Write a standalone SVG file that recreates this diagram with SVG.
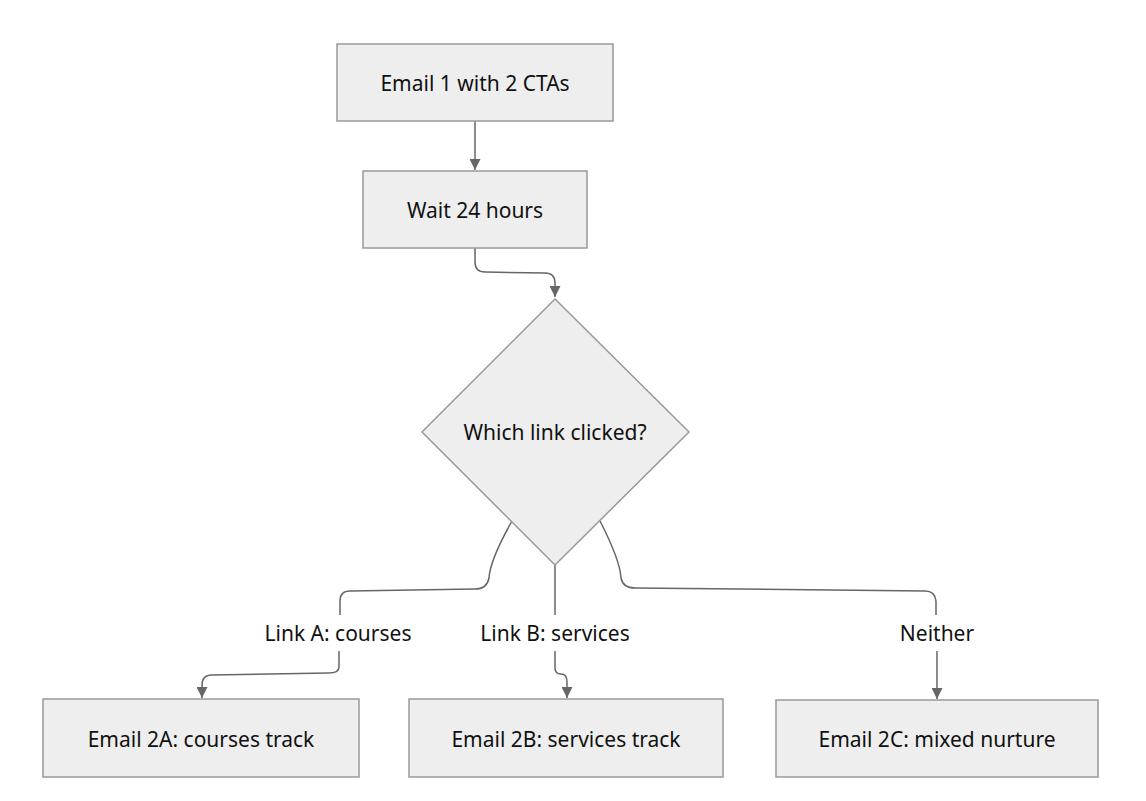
<svg xmlns="http://www.w3.org/2000/svg" width="1146" height="801" viewBox="0 0 1146 801">
<style>
.n{fill:#eeeeee;stroke:#999999;stroke-width:1.5}
.t{font-family:"Noto Sans","Open Sans",sans-serif;font-size:21px;fill:#111;text-anchor:middle;dominant-baseline:central}
.e{fill:none;stroke:#666666;stroke-width:1.5}
</style>
<defs>
<marker id="ah" viewBox="0 0 10 10" refX="10" refY="5" markerWidth="11" markerHeight="11" markerUnits="userSpaceOnUse" orient="auto">
<path d="M0,0 L10,5 L0,10 z" fill="#666666"/>
</marker>
</defs>
<rect width="1146" height="801" fill="#ffffff"/>
<g id="connectors">
<path class="e" d="M475,121 L475,170" marker-end="url(#ah)"/>
<path class="e" d="M475,248 L475,262 Q475,272 485,272 L545,273 Q555,273 555,283 L555,297" marker-end="url(#ah)"/>
<path class="e" d="M512,521 Q490,560 489,578 Q487,589 475,589 L350,591 Q340,591 340,601 L340,615"/>
<path class="e" d="M339,651 L339,667 Q339,673 329,673 L212,675 Q202,675 202,685 L202,698" marker-end="url(#ah)"/>
<path class="e" d="M555,564 L555,615"/>
<path class="e" d="M555,651 L555,668 Q555,674 561,674 Q567,674 567,682 L567,698" marker-end="url(#ah)"/>
<path class="e" d="M600,521 Q620,560 621,578 Q623,588 635,588 L925,591 Q935,591 936,601 L936,615"/>
<path class="e" d="M937,651 L937,699" marker-end="url(#ah)"/>
</g>
<g id="node-email1"><rect class="n" x="337" y="44" width="276" height="77"/><text class="t" x="475" y="83">Email 1 with 2 CTAs</text></g>
<g id="node-wait"><rect class="n" x="363" y="171" width="224" height="77"/><text class="t" x="475" y="210">Wait 24 hours</text></g>
<g id="node-decision"><polygon class="n" points="555,299 689,432 555,565 422,432"/><text class="t" x="555" y="432">Which link clicked?</text></g>
<g id="node-2a"><rect class="n" x="43" y="699" width="316" height="78"/><text class="t" x="201" y="739">Email 2A: courses track</text></g>
<g id="node-2b"><rect class="n" x="409" y="699" width="314" height="78"/><text class="t" x="566" y="739">Email 2B: services track</text></g>
<g id="node-2c"><rect class="n" x="776" y="700" width="322" height="77"/><text class="t" x="937" y="739">Email 2C: mixed nurture</text></g>
<g id="labels">
<text class="t" x="338" y="633">Link A: courses</text>
<text class="t" x="555" y="633">Link B: services</text>
<text class="t" x="937" y="633">Neither</text>
</g>
</svg>
